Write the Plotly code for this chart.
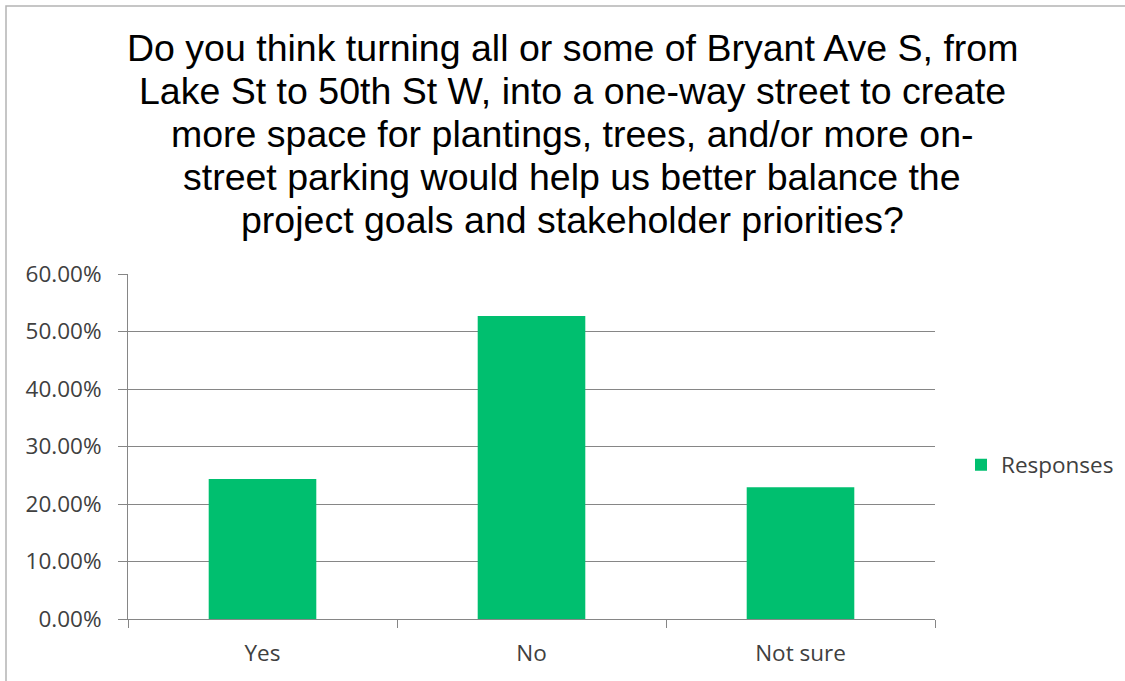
import plotly.graph_objects as go

# Survey question results
categories = ["Yes", "No", "Not sure"]
responses = [24.33, 52.70, 22.90]  # percent of respondents
series_name = "Responses"
y_ticks = [0, 10, 20, 30, 40, 50, 60]
y_tick_labels = ["0.00%", "10.00%", "20.00%", "30.00%", "40.00%", "50.00%", "60.00%"]

title_lines = [
    "Do you think turning all or some of Bryant Ave S, from",
    "Lake St to 50th St W, into a one-way street to create",
    "more space for plantings, trees, and/or more on-",
    "street parking would help us better balance the",
    "project goals and stakeholder priorities?",
]

W, H = 1125, 681
L, R, T, B = 128, 190, 274, 62
pw, ph = W - L - R, H - T - B

def px_x(x):
    return (x - L) / pw

def px_y(y):
    return (H - B - y) / ph

grid_col = "#868686"
text_col = "#404040"
label_font = dict(family="Open Sans", size=22.5, color=text_col)

fig = go.Figure()
fig.add_trace(go.Bar(
    x=categories,
    y=responses,
    name=series_name,
    marker=dict(color="#00BF6F", line=dict(width=0)),
    showlegend=True,
))

fig.update_layout(
    width=W,
    height=H,
    margin=dict(l=L, r=R, t=T, b=B, autoexpand=False),
    paper_bgcolor="white",
    plot_bgcolor="white",
    bargap=0.6,
    font=label_font,
    showlegend=True,
    legend=dict(
        xref="container", yref="container",
        x=961 / W, y=1 - 465 / H, xanchor="left", yanchor="middle",
        font=label_font,
        itemwidth=30, bgcolor="rgba(0,0,0,0)",
    ),
    xaxis=dict(
        showgrid=False,
        showline=True, linecolor=grid_col, linewidth=1,
        ticks="outside", tickson="boundaries", ticklen=8,
        tickcolor=grid_col, tickwidth=1,
        tickfont=label_font,
        ticklabelstandoff=14,
        fixedrange=True,
    ),
    yaxis=dict(
        range=[0, 60],
        tickvals=y_ticks, ticktext=y_tick_labels,
        showgrid=True, gridcolor=grid_col, gridwidth=1,
        showline=True, linecolor=grid_col, linewidth=1,
        ticks="outside", ticklen=9, tickcolor=grid_col, tickwidth=1,
        tickfont=label_font,
        ticklabelstandoff=12,
        zeroline=False,
        fixedrange=True,
    ),
)

# chart title, one annotation per line for a tight line pitch
for i, line in enumerate(title_lines):
    fig.add_annotation(
        text=line,
        xref="paper", yref="paper",
        x=px_x(572), y=px_y(48 + 43 * i),
        xanchor="center", yanchor="middle",
        showarrow=False, align="center",
        font=dict(family="Liberation Sans", size=37.5, color="#000000"),
    )

# chart-area border
fig.add_shape(
    type="rect", xref="paper", yref="paper",
    x0=px_x(6), x1=px_x(1140), y0=px_y(700), y1=px_y(6),
    line=dict(color="#b4b4b4", width=1.5), fillcolor="rgba(0,0,0,0)",
    layer="below",
)

fig.write_html("out.html")
